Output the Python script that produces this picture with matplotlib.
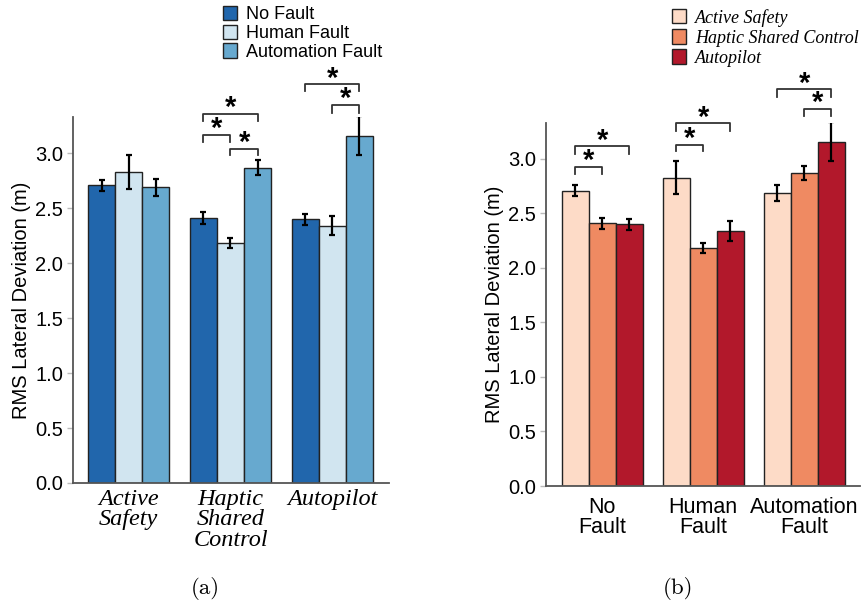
import matplotlib
matplotlib.use("Agg")
import matplotlib.pyplot as plt
import numpy as np
from matplotlib.patches import Patch

# ---- data ----
conditions = ["Active Safety", "Haptic Shared Control", "Autopilot"]
faults = ["No Fault", "Human Fault", "Automation Fault"]
# means[condition][fault]
means = np.array([
    [2.71, 2.83, 2.69],   # Active Safety
    [2.41, 2.18, 2.87],   # Haptic Shared Control
    [2.40, 2.34, 3.16],   # Autopilot
])
errs = np.array([
    [0.05, 0.155, 0.075],
    [0.053, 0.045, 0.065],
    [0.05, 0.088, 0.175],
])
cond_ticklabels = ["Active\nSafety", "Haptic\nShared\nControl", "Autopilot"]
fault_ticklabels = ["No\nFault", "Human\nFault", "Automation\nFault"]
yticks = [0.0, 0.5, 1.0, 1.5, 2.0, 2.5, 3.0]

fault_colors = ["#2166ac", "#d1e5f0", "#67a9cf"]
cond_colors = ["#fddbc7", "#ef8a62", "#b2182b"]

# significance: (group, hue_i, hue_j, line_y, tip_y, star_y)
sig_a = [
    (1, 0, 1, 3.17, 3.10, 3.22),
    (1, 1, 2, 3.04, 2.98, 3.09),
    (1, 0, 2, 3.36, 3.29, 3.41),
    (2, 0, 2, 3.63, 3.57, 3.68),
    (2, 1, 2, 3.44, 3.37, 3.49),
]
sig_b = [
    (0, 0, 1, 2.93, 2.86, 2.98),
    (0, 0, 2, 3.12, 3.05, 3.17),
    (1, 0, 1, 3.13, 3.07, 3.18),
    (1, 0, 2, 3.33, 3.26, 3.38),
    (2, 0, 2, 3.64, 3.57, 3.69),
    (2, 1, 2, 3.46, 3.39, 3.51),
]

W, H = 866, 608
fig = plt.figure(figsize=(W / 100, H / 100), dpi=100)

def ax_rect(x0, x1, ytop, ybot):
    return [x0 / W, 1 - ybot / H, (x1 - x0) / W, (ybot - ytop) / H]

bw = 0.8 / 3
spine_col = "#555555"

def draw_panel(ax, vals, ers, colors, ticklabels, sigs, italic_ticks):
    n = vals.shape[0]
    x = np.arange(n)
    for h in range(3):
        pos = x - 0.4 + bw * (h + 0.5)
        ax.bar(pos, vals[:, h], width=bw, color=colors[h], edgecolor="#222222",
               linewidth=1.0, zorder=2)
        ax.errorbar(pos, vals[:, h], yerr=ers[:, h], fmt="none", ecolor="black",
                    elinewidth=1.6, capsize=2.2, capthick=1.6, zorder=3)
    for (g, i, j, ly, ty, sy) in sigs:
        xi = g - 0.4 + bw * (i + 0.5)
        xj = g - 0.4 + bw * (j + 0.5)
        ax.plot([xi, xi, xj, xj], [ty, ly, ly, ty], color="#333333", lw=1.3,
                clip_on=False, zorder=4)
        ax.text((xi + xj) / 2, sy, "*", ha="center", va="center", fontsize=21,
                fontweight="bold", family="Liberation Sans", clip_on=False)
    ax.set_ylim(0, 3.33)
    ax.set_yticks(yticks)
    ax.set_yticklabels([f"{v:.1f}" for v in yticks], fontsize=14.5,
                       family="Liberation Sans")
    ax.set_xticks(x)
    if italic_ticks:
        ax.set_xticklabels(ticklabels, fontsize=17.5, family="Liberation Serif",
                           style="italic", linespacing=0.98)
        ax.tick_params(axis="x", length=0, pad=4)
    else:
        ax.set_xticklabels(ticklabels, fontsize=15.5, family="Liberation Sans",
                           linespacing=0.9)
        ax.tick_params(axis="x", length=0, pad=8)
    ax.tick_params(axis="y", length=4, color="#bbbbbb", width=1, pad=3)
    for s in ["top", "right"]:
        ax.spines[s].set_visible(False)
    for s in ["left", "bottom"]:
        ax.spines[s].set_color(spine_col)
        ax.spines[s].set_linewidth(1.3)
    ax.set_ylabel("RMS Lateral Deviation (m)", fontsize=14.5,
                  family="Liberation Sans", labelpad=3)

# Panel (a)
axa = fig.add_axes(ax_rect(73, 389, 117, 483))
draw_panel(axa, means, errs, fault_colors, cond_ticklabels, sig_a, True)
axa.set_xlim(-0.547, 2.557)
ha = [Patch(facecolor=c, edgecolor="#222222", linewidth=1.0) for c in fault_colors]
axa.legend(ha, faults, loc="upper left", bbox_to_anchor=(210 / W, 1 + 7 / H),
           bbox_transform=fig.transFigure, frameon=False,
           prop={"family": "Liberation Sans", "size": 13},
           handlelength=0.82, handleheight=0.85, handletextpad=0.5,
           labelspacing=0.08, borderpad=0.2)

# Panel (b): transpose -> groups are faults, hues are conditions
axb = fig.add_axes(ax_rect(546, 860, 123, 486))
draw_panel(axb, means.T, errs.T, cond_colors, fault_ticklabels, sig_b, False)
axb.set_xlim(-0.555, 2.55)
hb = [Patch(facecolor=c, edgecolor="#222222", linewidth=1.0) for c in cond_colors]
axb.legend(hb, conditions, loc="upper left", bbox_to_anchor=(659 / W, 1 + 4 / H),
           bbox_transform=fig.transFigure, frameon=False,
           prop={"family": "Liberation Serif", "style": "italic", "size": 13},
           handlelength=0.82, handleheight=0.85, handletextpad=0.5,
           labelspacing=0.15, borderpad=0.2)

fig.text(205 / W, 1 - 588 / H, "(a)", ha="center", va="center", fontsize=16.5,
         family="cmr10")
fig.text(678 / W, 1 - 588 / H, "(b)", ha="center", va="center", fontsize=16.5,
         family="cmr10")

fig.savefig("out.png", dpi=100)
